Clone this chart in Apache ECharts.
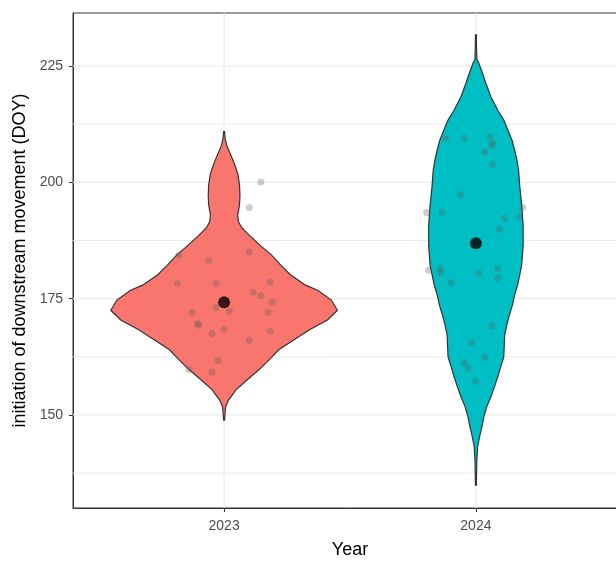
<!DOCTYPE html>
<html>
<head>
<meta charset="utf-8">
<style>
  html, body { margin: 0; padding: 0; background: #ffffff; }
  #chart { width: 616px; height: 561px; }
</style>
<script src="https://cdn.jsdelivr.net/npm/echarts@6/dist/echarts.min.js"></script>
</head>
<body>
<div id="chart"></div>
<script>
// Groups on the x axis
const years = ['2023', '2024'];
const yTicks = [150, 175, 200, 225];
const yMinorGrid = [137.5, 162.5, 187.5, 212.5];

// Violin outlines: DOY values and relative density (widest point = 1)
const violinDoy2023 = [210.9, 209.5, 208.0, 205.9, 203.7, 201.6, 199.4, 197.3, 195.1, 193.0, 191.5, 190.2, 188.7, 186.5, 184.4, 182.2, 180.1, 177.9, 176.8, 174.7, 172.5, 170.4, 168.3, 166.1, 164.0, 161.8, 159.7, 157.5, 155.4, 153.2, 151.7, 148.9];
const violinDens2023 = [0.004, 0.009, 0.022, 0.059, 0.096, 0.123, 0.136, 0.140, 0.136, 0.120, 0.127, 0.158, 0.219, 0.316, 0.417, 0.500, 0.588, 0.719, 0.825, 0.947, 1.000, 0.912, 0.754, 0.614, 0.482, 0.395, 0.307, 0.202, 0.105, 0.039, 0.013, 0.004];
const violinDoy2024 = [231.7, 229.0, 226.4, 225.6, 223.4, 221.3, 218.4, 215.5, 213.4, 211.2, 209.1, 206.9, 204.8, 202.6, 199.4, 195.1, 190.8, 186.5, 182.2, 177.9, 175.8, 173.6, 171.5, 169.3, 167.2, 162.5, 160.4, 158.2, 156.1, 153.9, 151.8, 149.6, 147.5, 145.3, 143.2, 140.3, 134.9];
const violinDens2024 = [0.004, 0.005, 0.009, 0.026, 0.059, 0.088, 0.132, 0.193, 0.246, 0.283, 0.318, 0.342, 0.362, 0.377, 0.386, 0.404, 0.417, 0.417, 0.404, 0.368, 0.342, 0.322, 0.296, 0.272, 0.254, 0.246, 0.219, 0.193, 0.164, 0.132, 0.096, 0.070, 0.053, 0.032, 0.015, 0.008, 0.004];

// Individual fish: initiation DOY and horizontal jitter offset
const doy2023 = [200.1, 194.6, 184.4, 183.1, 185.1, 178.3, 178.3, 178.6, 176.3, 175.6, 174.3, 172.0, 173.1, 172.3, 172.0, 169.6, 169.3, 168.4, 167.5, 168.0, 166.0, 161.7, 159.7, 159.2];
const jitter2023 = [0.146, 0.100, -0.180, -0.061, 0.100, -0.185, -0.032, 0.183, 0.116, 0.146, 0.191, -0.127, -0.032, 0.021, 0.175, -0.106, -0.100, 0.000, -0.048, 0.183, 0.100, -0.024, -0.140, -0.048];
const doy2024 = [209.4, 209.4, 209.8, 208.5, 207.9, 206.6, 203.8, 197.4, 193.5, 193.5, 194.6, 192.6, 192.3, 189.9, 181.1, 181.5, 180.7, 181.5, 180.4, 179.5, 178.4, 169.2, 165.6, 162.4, 161.2, 160.0, 157.2];
const jitter2024 = [-0.120, -0.046, 0.056, 0.066, 0.064, 0.035, 0.065, -0.061, -0.196, -0.135, 0.185, 0.172, 0.116, 0.093, -0.188, -0.143, -0.140, 0.086, 0.012, 0.086, -0.098, 0.064, -0.017, 0.036, -0.046, -0.031, -0.001];

// Group means
const meanDoy = [174.2, 186.9];

const fills = ['#F8766D', '#00BFC4'];
const violins = [
  { doy: violinDoy2023, dens: violinDens2023 },
  { doy: violinDoy2024, dens: violinDens2024 }
];
const HALF_WIDTH = 0.45; // half of the 0.9 violin width, in group units
const FONT = '"Liberation Sans", Arial, sans-serif';

const pointData = [];
doy2023.forEach((d, i) => pointData.push([1 + jitter2023[i], d]));
doy2024.forEach((d, i) => pointData.push([2 + jitter2024[i], d]));

const chart = echarts.init(document.getElementById('chart'), null, { renderer: 'canvas', width: 616, height: 561 });

const gridLine = (horizontal, width) => function (params, api) {
  const cs = params.coordSys;
  const v = api.value(0);
  if (horizontal) {
    const p = api.coord([1, v]);
    return { type: 'line', shape: { x1: cs.x, y1: p[1], x2: cs.x + cs.width, y2: p[1] },
      style: { stroke: '#EBEBEB', lineWidth: width }, silent: true };
  }
  const p = api.coord([v, 180]);
  return { type: 'line', shape: { x1: p[0], y1: cs.y, x2: p[0], y2: cs.y + cs.height },
    style: { stroke: '#EBEBEB', lineWidth: width }, silent: true };
};

chart.setOption({
  animation: false,
  backgroundColor: '#ffffff',
  grid: {
    left: 73, top: 13, width: 554, height: 495,
    outerBoundsMode: 'none', containLabel: false,
    show: true, borderColor: '#333333', borderWidth: 1, backgroundColor: 'transparent'
  },
  xAxis: {
    type: 'value', min: 0.4, max: 2.6,
    name: 'Year', nameLocation: 'middle', nameGap: 33,
    nameTextStyle: { color: '#000000', fontSize: 18, fontFamily: FONT },
    axisLine: { show: true, lineStyle: { color: '#333333', width: 1 } },
    axisTick: { show: true, length: 4, customValues: [1, 2], lineStyle: { color: '#333333' } },
    axisLabel: { customValues: [1, 2], formatter: v => years[Math.round(v) - 1],
      color: '#4D4D4D', fontSize: 14, fontFamily: FONT, margin: 11 },
    splitLine: { show: false }
  },
  yAxis: {
    type: 'value', min: 130, max: 236.4,
    name: 'initiation of downstream movement (DOY)', nameLocation: 'middle', nameRotate: 90, nameGap: 43,
    nameTextStyle: { color: '#000000', fontSize: 18, fontFamily: FONT },
    axisLine: { show: true, lineStyle: { color: '#333333', width: 1 } },
    axisTick: { show: true, length: 4, customValues: yTicks, lineStyle: { color: '#333333' } },
    axisLabel: { customValues: yTicks, color: '#4D4D4D', fontSize: 14, fontFamily: FONT, margin: 10 },
    splitLine: { show: false }
  },
  series: [
    { type: 'custom', z: 1, silent: true, data: yMinorGrid, renderItem: gridLine(true, 1) },
    { type: 'custom', z: 1, silent: true, data: yTicks, renderItem: gridLine(true, 1.3) },
    { type: 'custom', z: 1, silent: true, data: [1, 2], renderItem: gridLine(false, 1.3) },
    {
      type: 'custom', z: 2, silent: true,
      data: [[1], [2]],
      renderItem: function (params, api) {
        const idx = params.dataIndex;
        const g = violins[idx];
        const cx = api.value(0);
        const right = [], left = [];
        for (let i = 0; i < g.doy.length; i++) {
          const w = g.dens[i] * HALF_WIDTH;
          right.push(api.coord([cx + w, g.doy[i]]));
          left.push(api.coord([cx - w, g.doy[i]]));
        }
        const pts = right.concat(left.reverse());
        return {
          type: 'polygon',
          shape: { points: pts },
          style: { fill: fills[idx], stroke: '#333333', lineWidth: 1.2 }
        };
      }
    },
    {
      type: 'scatter', z: 3, silent: true,
      data: pointData, symbol: 'circle', symbolSize: 7,
      itemStyle: { color: 'rgba(90,90,90,0.38)' }
    },
    {
      type: 'scatter', z: 4, silent: true,
      data: meanDoy.map((m, i) => [i + 1, m]), symbol: 'circle', symbolSize: 12,
      itemStyle: { color: '#000000' }
    }
  ]
});
</script>
</body>
</html>
